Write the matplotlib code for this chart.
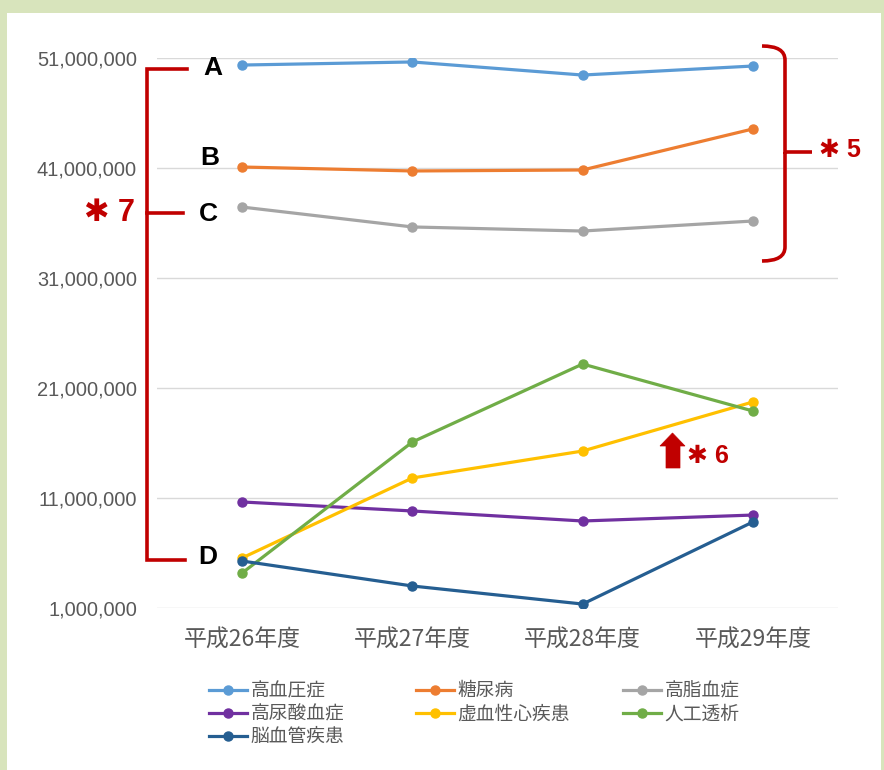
import matplotlib.pyplot as plt
from matplotlib.path import Path
from matplotlib.patches import PathPatch, Polygon, Rectangle
from matplotlib.lines import Line2D
from matplotlib.ticker import FuncFormatter

plt.rcParams['font.family'] = ['Noto Sans CJK JP', 'DejaVu Sans']

years = ['平成26年度', '平成27年度', '平成28年度', '平成29年度']
names = ['高血圧症', '糖尿病', '高脂血症', '高尿酸血症', '虚血性心疾患', '人工透析', '脳血管疾患']
colors = ['#5B9BD5', '#ED7D31', '#A5A5A5', '#7030A0', '#FFC000', '#70AD47', '#255E91']

hypertension = [50.36e6, 50.64e6, 49.45e6, 50.27e6]
diabetes = [41.09e6, 40.73e6, 40.82e6, 44.55e6]
hyperlipidemia = [37.45e6, 35.64e6, 35.27e6, 36.18e6]
hyperuricemia = [10.64e6, 9.82e6, 8.91e6, 9.45e6]
ischemic_heart = [5.55e6, 12.82e6, 15.27e6, 19.73e6]
dialysis = [4.18e6, 16.09e6, 23.18e6, 18.91e6]
cerebrovascular = [5.27e6, 3.00e6, 1.36e6, 8.82e6]
series = [hypertension, diabetes, hyperlipidemia, hyperuricemia,
          ischemic_heart, dialysis, cerebrovascular]

yticks = [1e6, 11e6, 21e6, 31e6, 41e6, 51e6]

W, H = 884, 770
fig = plt.figure(figsize=(W / 100, H / 100), dpi=100)
fig.patch.set_facecolor('#D8E4BC')


def px(x, y):
    return (x / W, 1 - y / H)


# white panel
fig.add_artist(Rectangle(px(7, 780), 874 / W, 767 / H, transform=fig.transFigure,
                         facecolor='white', edgecolor='none', zorder=-5))

ax = fig.add_axes([157 / W, 1 - 608 / H, (838 - 157) / W, (608 - 58) / H], zorder=2)
ax.set_facecolor('none')
x = list(range(len(years)))
handles = []
for vals, name, c in zip(series, names, colors):
    h, = ax.plot(x, vals, color=c, lw=2.3, marker='o', ms=6.5, label=name, zorder=3)
    handles.append(h)

ax.set_xlim(-0.5, 3.5)
ax.set_ylim(1e6, 51e6)
ax.set_yticks(yticks)
ax.yaxis.set_major_formatter(FuncFormatter(lambda v, p: f'{int(round(v)):,}'))
ax.set_xticks(x)
ax.set_xticklabels(years, fontsize=16.5, color='#595959')
for t in ax.get_yticklabels():
    t.set_family('Liberation Sans')
    t.set_fontsize(14.4)
    t.set_color('#595959')
ax.tick_params(length=0)
ax.tick_params(axis='y', pad=14.4)
ax.tick_params(axis='x', pad=15)
ax.grid(axis='y', color='#D9D9D9', lw=1)
ax.set_axisbelow(True)
for s in ax.spines.values():
    s.set_visible(False)

# legend: three columns, laid out row by row
cols = [[0, 3, 6], [1, 4], [2, 5]]
col_x = [200, 407, 614]
for cx, idx in zip(col_x, cols):
    lg = fig.legend([handles[i] for i in idx], [names[i] for i in idx],
                    loc='upper left', bbox_to_anchor=px(cx, 671), frameon=False,
                    fontsize=13.5, handlelength=2.0, handletextpad=0.2,
                    labelspacing=0.1, borderpad=0, labelcolor='#595959')

red = '#C00000'
lw = 2.6
star_font = ['Liberation Sans', 'DejaVu Sans']


def seg(points):
    xs = [p[0] / W for p in points]
    ys = [1 - p[1] / H for p in points]
    fig.add_artist(Line2D(xs, ys, color=red, lw=lw, transform=fig.transFigure,
                          solid_joinstyle='miter', zorder=5))


# left bracket
seg([(187, 69), (147, 69), (147, 560), (185, 560)])
seg([(147, 213), (183, 213)])
fig.text(*px(110, 213), '✱ 7', color=red, fontsize=22, fontweight='bold',
         family=star_font, ha='center', va='center')

# letters
for lab, (lx, ly) in zip(['A', 'B', 'C', 'D'], [(213, 68), (210, 158), (208, 214), (208, 557)]):
    fig.text(*px(lx, ly), lab, family='Liberation Sans', fontweight='bold',
             fontsize=19, ha='center', va='center', color='black')

# right curly brace
brace = Path([px(762, 46), px(785, 46), px(785, 60), px(785, 152), px(812, 152),
              px(785, 152), px(785, 247), px(785, 261), px(762, 261)],
             [Path.MOVETO, Path.CURVE3, Path.CURVE3, Path.LINETO, Path.LINETO,
              Path.MOVETO, Path.LINETO, Path.CURVE3, Path.CURVE3])
fig.add_artist(PathPatch(brace, transform=fig.transFigure, facecolor='none',
                         edgecolor=red, lw=lw, zorder=5))
fig.text(*px(840, 150), '✱ 5', color=red, fontsize=18, fontweight='bold',
         family=star_font, ha='center', va='center')

# up arrow
arrow = [(660, 446), (672.5, 433), (685, 446), (680, 446), (680, 468), (666, 468), (666, 446)]
fig.add_artist(Polygon([px(*p) for p in arrow], closed=True, transform=fig.transFigure,
                       facecolor=red, edgecolor=red, lw=0.5, zorder=5))
fig.text(*px(708, 456), '✱ 6', color=red, fontsize=18, fontweight='bold',
         family=star_font, ha='center', va='center')

fig.savefig('out.png', dpi=100, facecolor=fig.get_facecolor())
